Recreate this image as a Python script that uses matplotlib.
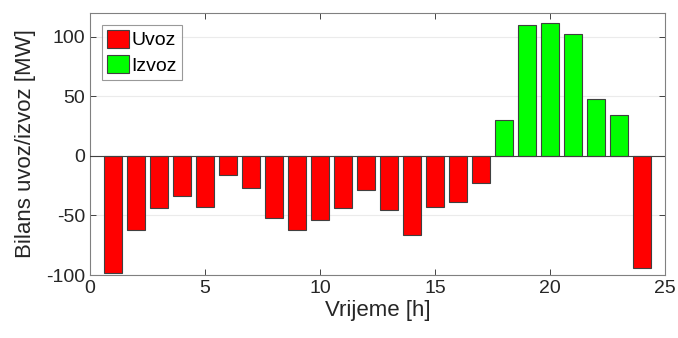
import matplotlib
matplotlib.use("Agg")
import matplotlib.pyplot as plt
import numpy as np

hours = list(range(1, 25))
balance = [-98, -62, -43.5, -34, -42.5, -16, -27, -52, -62.5, -53.5, -44, -28.5,
           -45, -66.5, -42.5, -38.5, -22.5, 30, 110, 112, 102.5, 48, 34.5, -94]
xticks = [0, 5, 10, 15, 20, 25]
yticks = [-100, -50, 0, 50, 100]

plt.rcParams['font.family'] = ['Liberation Sans', 'DejaVu Sans']
plt.rcParams['axes.unicode_minus'] = False
fig = plt.figure(figsize=(6.78, 3.38), dpi=100)
ax = fig.add_axes([90/678, 63/338, 575/678, 262/338])

h = np.array(hours)
b = np.array(balance)
neg = b < 0
pos = ~neg
ax.bar(h[neg], b[neg], width=0.8, color='#ff0000', edgecolor='#404040', linewidth=0.8, label='Uvoz', zorder=3)
ax.bar(h[pos], b[pos], width=0.8, color='#00ff00', edgecolor='#404040', linewidth=0.8, label='Izvoz', zorder=3)
ax.axhline(0, color='#404040', linewidth=0.8, zorder=4)

ax.set_xlim(0, 25)
ax.set_ylim(-100, 120)
ax.set_xticks(xticks)
ax.set_yticks(yticks)
ax.yaxis.grid(True, color='#ebebeb', linewidth=0.8, zorder=0)
ax.set_axisbelow(True)
ax.tick_params(direction='in', top=True, right=True, labelsize=14, colors='#262626',
               length=4, width=0.6)
for s in ax.spines.values():
    s.set_color('#808080')
    s.set_linewidth(0.8)
ax.set_xlabel('Vrijeme [h]', fontsize=16, color='#262626', labelpad=2)
ax.set_ylabel('Bilans uvoz/izvoz [MW]', fontsize=16, color='#262626', labelpad=7)
leg = ax.legend(loc='upper left', fontsize=14, frameon=True, fancybox=False,
                edgecolor='#808080', handlelength=1.13, handleheight=1.05,
                handletextpad=0.15, borderpad=0.25, labelspacing=0.3,
                borderaxespad=0.6)
leg.get_frame().set_linewidth(0.8)
fig.savefig('out.png', dpi=100)
